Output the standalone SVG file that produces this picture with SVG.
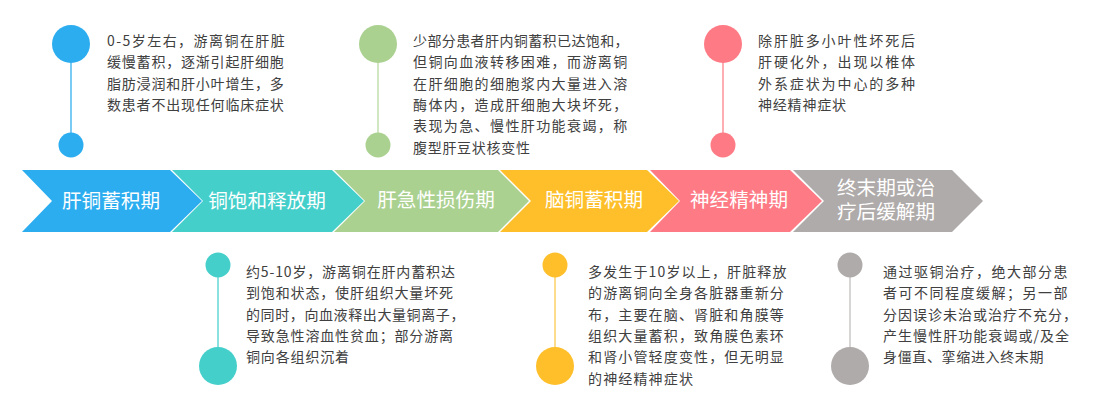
<svg xmlns="http://www.w3.org/2000/svg" width="1095" height="411" viewBox="0 0 1095 411">
<style>
text{font-family:"Noto Sans CJK SC","Noto Sans",sans-serif}
.d{font-size:14px;fill:#404040}
.l{font-size:19.6px;fill:#fff;text-anchor:middle}
.c{stroke-width:1.6;fill:none}
</style>
<rect width="1095" height="411" fill="#fff"/>
<g id="connectors">
<line class="c" x1="71" y1="60" x2="71" y2="135" stroke="#58bff3"/>
<line class="c" x1="378" y1="60" x2="378" y2="135" stroke="#c6e0b3"/>
<line class="c" x1="723" y1="60" x2="723" y2="135" stroke="#fe99a1"/>
<line class="c" x1="218" y1="275" x2="218" y2="350" stroke="#6fdad7"/>
<line class="c" x1="555" y1="275" x2="555" y2="350" stroke="#fed472"/>
<line class="c" x1="850" y1="275" x2="850" y2="350" stroke="#cfcccb"/>
</g>
<g id="stage1">
<polygon points="22,170 170,170 202,201 170,232 22,232 52,201" fill="#2cadf0"/>
<text class="l" x="111" y="208">肝铜蓄积期</text>
</g>
<g id="stage2">
<polygon points="172,170 332,170 364,201 332,232 172,232 203,201" fill="#45cfcb"/>
<text class="l" x="267" y="208">铜饱和释放期</text>
</g>
<g id="stage3">
<polygon points="334,170 498,170 529,201 498,232 334,232 365,201" fill="#abd190"/>
<text class="l" x="436" y="207">肝急性损伤期</text>
</g>
<g id="stage4">
<polygon points="500,170 647,170 679,201 647,232 500,232 531,201" fill="#febf2b"/>
<text class="l" x="594" y="207">脑铜蓄积期</text>
</g>
<g id="stage5">
<polygon points="650,170 790,170 822,201 790,232 650,232 680,201" fill="#fe7b85"/>
<text class="l" x="739" y="207">神经精神期</text>
</g>
<g id="stage6">
<polygon points="793,170 952,170 983,201 952,232 793,232 824,201" fill="#afabaa"/>
<text class="l" y="195"><tspan x="886">终末期或治</tspan><tspan x="886" dy="24">疗后缓解期</tspan></text>
</g>
<g id="note1">
<circle cx="71" cy="44" r="19" fill="#2cadf0"/>
<circle cx="71" cy="145" r="12.5" fill="#2cadf0"/>
<text class="d" letter-spacing="1.45" x="107" y="46">0-5岁左右，游离铜在肝脏</text>
<text class="d" letter-spacing=".8" x="107" y="67">缓慢蓄积，逐渐引起肝细胞</text>
<text class="d" letter-spacing=".8" x="107" y="89">脂肪浸润和肝小叶增生，多</text>
<text class="d" letter-spacing=".8" x="107" y="110">数患者不出现任何临床症状</text>
</g>
<g id="note2">
<circle cx="378" cy="44" r="19" fill="#abd190"/>
<circle cx="378" cy="145" r="12.5" fill="#abd190"/>
<text class="d" letter-spacing=".4" x="413" y="46">少部分患者肝内铜蓄积已达饱和，</text>
<text class="d" letter-spacing="1.4" x="413" y="67">但铜向血液转移困难，而游离铜</text>
<text class="d" letter-spacing="1.4" x="413" y="89">在肝细胞的细胞浆内大量进入溶</text>
<text class="d" letter-spacing="1.4" x="413" y="110">酶体内，造成肝细胞大块坏死，</text>
<text class="d" letter-spacing="1.4" x="413" y="131">表现为急、慢性肝功能衰竭，称</text>
<text class="d" letter-spacing=".7" x="413" y="153">腹型肝豆状核变性</text>
</g>
<g id="note3">
<circle cx="723" cy="44" r="19" fill="#fe7b85"/>
<circle cx="723" cy="145" r="12.5" fill="#fe7b85"/>
<text class="d" letter-spacing="1.9" x="758" y="46">除肝脏多小叶性坏死后</text>
<text class="d" letter-spacing="1.9" x="758" y="67">肝硬化外，出现以椎体</text>
<text class="d" letter-spacing="1.9" x="758" y="89">外系症状为中心的多种</text>
<text class="d" letter-spacing=".8" x="758" y="110">神经精神症状</text>
</g>
<g id="note4">
<circle cx="218" cy="265" r="12.5" fill="#45cfcb"/>
<circle cx="218" cy="366" r="19" fill="#45cfcb"/>
<text class="d" letter-spacing=".85" x="246" y="277">约5-10岁，游离铜在肝内蓄积达</text>
<text class="d" letter-spacing=".85" x="246" y="298">到饱和状态，使肝组织大量坏死</text>
<text class="d" letter-spacing=".6" x="246" y="320">的同时，向血液释出大量铜离子，</text>
<text class="d" letter-spacing=".85" x="246" y="341">导致急性溶血性贫血；部分游离</text>
<text class="d" letter-spacing=".85" x="246" y="362">铜向各组织沉着</text>
</g>
<g id="note5">
<circle cx="555" cy="265" r="12.5" fill="#febf2b"/>
<circle cx="555" cy="366" r="19" fill="#febf2b"/>
<text class="d" letter-spacing="1.15" x="588" y="277">多发生于10岁以上，肝脏释放</text>
<text class="d" letter-spacing="1.15" x="588" y="298">的游离铜向全身各脏器重新分</text>
<text class="d" letter-spacing="1.15" x="588" y="320">布，主要在脑、肾脏和角膜等</text>
<text class="d" letter-spacing="1.15" x="588" y="341">组织大量蓄积，致角膜色素环</text>
<text class="d" letter-spacing="1.15" x="588" y="362">和肾小管轻度变性，但无明显</text>
<text class="d" letter-spacing="1.15" x="588" y="384">的神经精神症状</text>
</g>
<g id="note6">
<circle cx="850" cy="265" r="12.5" fill="#afabaa"/>
<circle cx="850" cy="366" r="19" fill="#afabaa"/>
<text class="d" letter-spacing="1.5" x="883" y="277">通过驱铜治疗，绝大部分患</text>
<text class="d" letter-spacing="1.5" x="883" y="298">者可不同程度缓解；另一部</text>
<text class="d" letter-spacing="1" x="883" y="320">分因误诊未治或治疗不充分，</text>
<text class="d" letter-spacing="1.05" x="883" y="341">产生慢性肝功能衰竭或/及全</text>
<text class="d" letter-spacing=".65" x="883" y="362">身僵直、挛缩进入终末期</text>
</g>
</svg>
